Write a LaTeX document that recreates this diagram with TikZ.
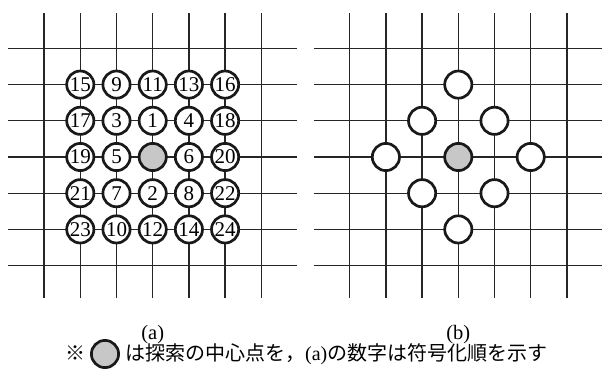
\documentclass[tikz,border=0pt]{standalone}
\usepackage{fontspec}
\setmainfont{Liberation Serif}
\newfontfamily\jpfont{Noto Sans CJK JP}
\begin{document}
\begin{tikzpicture}[x=1pt,y=-1pt,
  gridline/.style={line width=1.25pt, draw=black!85},
  spot/.style={circle, draw=black!90, line width=2.7pt, fill=white, minimum size=27.2pt, inner sep=0pt, font=\fontsize{21}{21}\selectfont},
  hub/.style={spot, fill=black!22},
  caption/.style={font=\fontsize{20.5}{21}\selectfont, inner sep=0pt},
  notetext/.style={font=\fontsize{20}{21}\selectfont, inner sep=0pt, text height=14pt, text depth=2.5pt}]
\useasboundingbox[fill=white] (0,0) rectangle (603,370);
% grids
\foreach \cx in {152.7,458.3} {
  \foreach \k in {-3,...,3} {
    \draw[gridline] ({\cx+36.2*\k},13) -- ({\cx+36.2*\k},298);
    \draw[gridline] ({\cx-144.5},{157+36.2*\k}) -- ({\cx+144},{157+36.2*\k});
  }
}
% (a) circles
\foreach \i/\j/\t in {-2/-2/15,-1/-2/9,0/-2/11,1/-2/13,2/-2/16,
                      -2/-1/17,-1/-1/3,0/-1/1,1/-1/4,2/-1/18,
                      -2/0/19,-1/0/5,1/0/6,2/0/20,
                      -2/1/21,-1/1/7,0/1/2,1/1/8,2/1/22,
                      -2/2/23,-1/2/10,0/2/12,1/2/14,2/2/24} {
  \node[spot] (a\t) at ({152.7+36.2*\i},{157+36.2*\j}) {\t};
}
\node[hub] (ac) at (152.7,157) {};
% (b) circles
\foreach \i/\j/\n in {0/-2/1,-1/-1/2,1/-1/3,-2/0/4,2/0/5,-1/1/6,1/1/7,0/2/8} {
  \node[spot] (b\n) at ({458.3+36.2*\i},{157+36.2*\j}) {};
}
\node[hub] (bc) at (458.3,157) {};
% labels
\node[caption, anchor=base] (la) at (152.7,339.5) {(a)};
\node[caption, anchor=base] (lb) at (458.3,339.5) {(b)};
% note
\node[notetext, anchor=base, font=\jpfont\fontsize{20}{21}\selectfont] (mark) at (75.5,360.5) {※};
\node[hub] (legend) at (105,354) {};
\node[notetext, anchor=base west] (note) at (125,360.5) {\jpfont は探索の中心点を，\rmfamily(a)\jpfont の数字は符号化順を示す};
\end{tikzpicture}
\end{document}
